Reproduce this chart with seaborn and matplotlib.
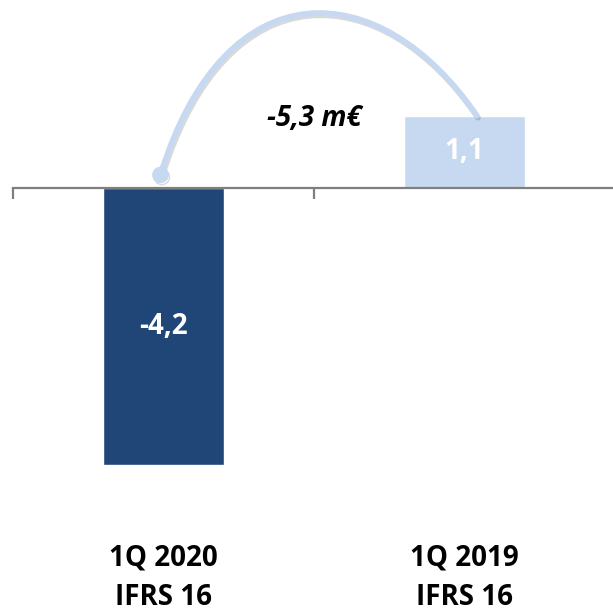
import numpy as np
import pandas as pd
import matplotlib
matplotlib.use("Agg")
import matplotlib.pyplot as plt
import matplotlib.patheffects as pe
from matplotlib.path import Path
from matplotlib.patches import PathPatch
import seaborn as sns

# chart data
periods = ["1Q 2020\nIFRS 16", "1Q 2019\nIFRS 16"]
values = [-4.2, 1.1]
value_labels = ["-4,2", "1,1"]
bar_colors = ["#1F4677", "#C6D9F1"]
delta_label = "-5,3 m€"

sns.set_style("white")
plt.rcParams["font.family"] = ["Open Sans", "DejaVu Sans"]

df = pd.DataFrame({"period": periods, "value": values})

fig = plt.figure(figsize=(6.13, 6.14), dpi=100)
ax = fig.add_axes([13 / 613, 0, 602 / 613, 1])

sns.barplot(data=df, x="period", y="value", hue="period", palette=bar_colors,
            width=0.4, saturation=1, legend=False, ax=ax)

ax.set_xlim(-0.5, 1.5)
ax.set_ylim(-6.45, 2.85)

# zero axis line with category separators
for side in ["top", "right", "left"]:
    ax.spines[side].set_visible(False)
ax.spines["bottom"].set_position(("data", 0))
ax.spines["bottom"].set_color("#7F7F7F")
ax.spines["bottom"].set_linewidth(1.6)
ax.set_xticks([-0.5, 0.5, 1.5])
ax.set_xticklabels([])
ax.tick_params(axis="x", bottom=True, direction="out", length=8, width=1.6,
               color="#7F7F7F")
ax.set_yticks([])
ax.set_xlabel("")
ax.set_ylabel("")

# values inside bars
for i, (v, lab) in enumerate(zip(values, value_labels)):
    ax.text(i, v / 2, lab, ha="center", va="center", color="white",
            fontsize=20, fontweight="bold")

# category labels below
for i, p in enumerate(periods):
    ax.text(i, -5.9, p, ha="center", va="center", color="black",
            fontsize=20, fontweight="bold", linespacing=1.45)

# arc from first bar to second bar
x0, y0 = -0.01, 0.2
x1, y1 = 1.04, values[1]
verts = [(x0, y0), (0.205, 3.38), (0.722, 3.23), (x1, y1)]
codes = [Path.MOVETO, Path.CURVE4, Path.CURVE4, Path.CURVE4]
shadow = [pe.SimpleLineShadow(offset=(1, -1.5), alpha=0.15), pe.Normal()]
arc = PathPatch(Path(verts, codes), facecolor="none", edgecolor=bar_colors[1],
                lw=4.2, capstyle="round", zorder=4, path_effects=shadow)
ax.add_patch(arc)
ax.plot([x0], [y0], "o", color=bar_colors[1], markersize=11, zorder=5,
        path_effects=shadow)

ax.text(0.5, 1.06, delta_label, ha="center", va="center", color="black",
        fontsize=20, fontweight="bold", fontstyle="italic")

fig.savefig("out.png", dpi=100)
